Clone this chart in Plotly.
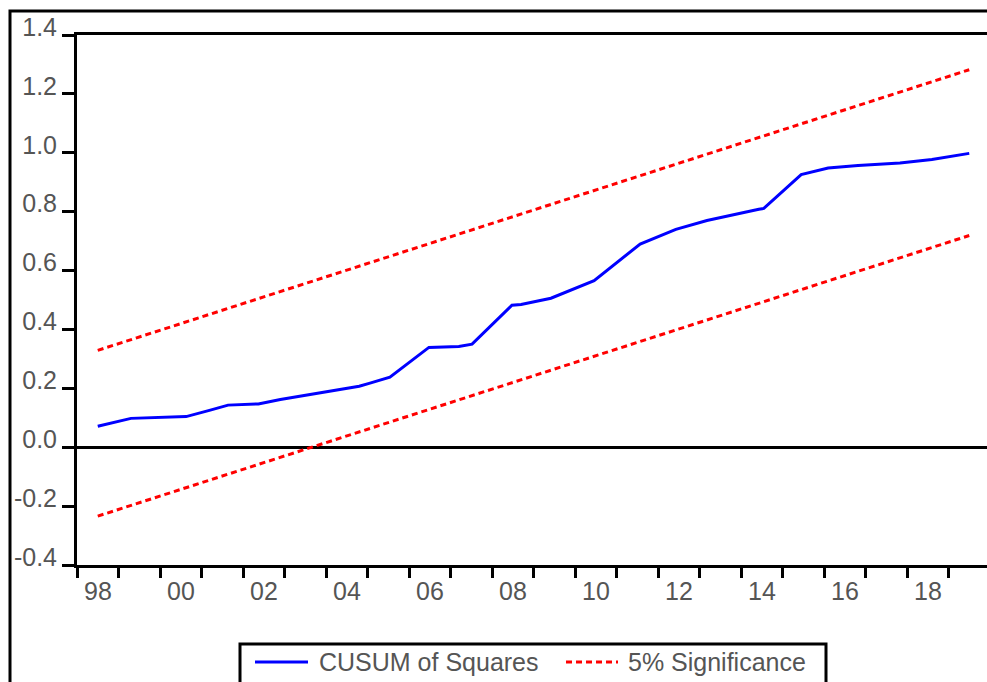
import plotly.graph_objects as go

# CUSUM of Squares, x in decimal years
cusum_dates = [1998.50, 1999.30, 2000.63, 2000.94, 2001.19, 2001.64, 2002.37, 2002.90,
               2003.57, 2004.02, 2004.46, 2004.80, 2005.04, 2005.28, 2005.54, 2006.48,
               2007.20, 2007.52, 2008.48, 2008.70, 2009.42, 2010.46, 2011.57, 2012.43,
               2013.18, 2014.43, 2014.55, 2015.45, 2016.10, 2016.82, 2017.83, 2018.60,
               2019.50]
cusum_values = [0.071, 0.098, 0.104, 0.115, 0.125, 0.143, 0.147, 0.162,
                0.177, 0.187, 0.197, 0.207, 0.217, 0.228, 0.238, 0.339,
                0.342, 0.350, 0.482, 0.485, 0.506, 0.566, 0.690, 0.740,
                0.770, 0.808, 0.811, 0.926, 0.948, 0.957, 0.965, 0.977,
                0.998]

# 5% significance bounds (straight lines)
band_dates = [1998.5, 2019.5]
upper_band = [0.329, 1.282]
lower_band = [-0.234, 0.719]

years = list(range(1998, 2020))
year_labels = [("%02d" % (y % 100)) if y % 2 == 0 else "" for y in years]
y_ticks = [-0.4, -0.2, 0.0, 0.2, 0.4, 0.6, 0.8, 1.0, 1.2, 1.4]
y_labels = ["-0.4", "-0.2", "0.0", "0.2", "0.4", "0.6", "0.8", "1.0", "1.2", "1.4"]
legend_names = ["CUSUM of Squares", "5% Significance"]

W, H = 987, 682
L, T, B = 77, 35, 117
PW, PH = W - L, H - T - B
YEAR_PX = 41.5
x_end = 1998 + PW / YEAR_PX

def px2x(px):
    return (px - L) / PW

def py2y(py):
    return (H - B - py) / PH

BLUE = "#0000ff"
RED = "#ff0000"
DASH = "6px,4px"
font_color = "#555555"

fig = go.Figure()
fig.add_trace(go.Scatter(x=cusum_dates, y=cusum_values, mode="lines",
                         name=legend_names[0], line=dict(color=BLUE, width=3)))
fig.add_trace(go.Scatter(x=band_dates, y=upper_band, mode="lines",
                         name=legend_names[1], line=dict(color=RED, width=3, dash=DASH)))
fig.add_trace(go.Scatter(x=band_dates, y=lower_band, mode="lines",
                         name=legend_names[1], line=dict(color=RED, width=3, dash=DASH)))

# legend drawn as a framed box below the plot (EViews style)
leg_y = py2y(662)
shapes = [
    dict(type="rect", xref="paper", yref="paper",
         x0=px2x(10), x1=1.5, y0=-1.0, y1=py2y(11),
         line=dict(color="black", width=3), fillcolor="rgba(0,0,0,0)"),
    dict(type="rect", xref="paper", yref="paper",
         x0=px2x(240), x1=px2x(826), y0=-1.0, y1=py2y(644),
         line=dict(color="black", width=3), fillcolor="white"),
    dict(type="line", xref="paper", yref="paper",
         x0=px2x(255), x1=px2x(308), y0=leg_y, y1=leg_y,
         line=dict(color=BLUE, width=3)),
    dict(type="line", xref="paper", yref="paper",
         x0=px2x(566), x1=px2x(618), y0=leg_y, y1=leg_y,
         line=dict(color=RED, width=3, dash=DASH)),
]
annotations = [
    dict(xref="paper", yref="paper", x=px2x(317), y=leg_y, text=legend_names[0],
         showarrow=False, xanchor="left", yanchor="middle",
         font=dict(size=25, color=font_color)),
    dict(xref="paper", yref="paper", x=px2x(626), y=leg_y, text=legend_names[1],
         showarrow=False, xanchor="left", yanchor="middle",
         font=dict(size=25, color=font_color)),
]

fig.update_layout(
    width=W, height=H,
    margin=dict(l=L, r=0, t=T, b=B, autoexpand=False),
    paper_bgcolor="white", plot_bgcolor="white",
    font=dict(family="Liberation Sans, Arial, sans-serif", size=25, color=font_color),
    showlegend=False,
    xaxis=dict(range=[1998, x_end], showgrid=False, zeroline=False,
               showline=True, linecolor="black", linewidth=3, mirror=True,
               tickmode="array", tickvals=years, ticktext=year_labels,
               ticks="outside", ticklen=10, tickwidth=3, tickcolor="black",
               ticklabelshift=21, ticklabelstandoff=-8),
    yaxis=dict(range=[-0.4, 1.4], showgrid=False,
               zeroline=True, zerolinecolor="black", zerolinewidth=3,
               showline=True, linecolor="black", linewidth=3, mirror=False,
               tickmode="array", tickvals=y_ticks, ticktext=y_labels,
               ticks="outside", ticklen=12, tickwidth=3, tickcolor="black",
               ticklabelshift=-8, ticklabelstandoff=0),
    shapes=shapes,
    annotations=annotations,
)

fig.write_html("out.html", config={"displayModeBar": False},
               post_script="document.body.style.margin='0px';")
